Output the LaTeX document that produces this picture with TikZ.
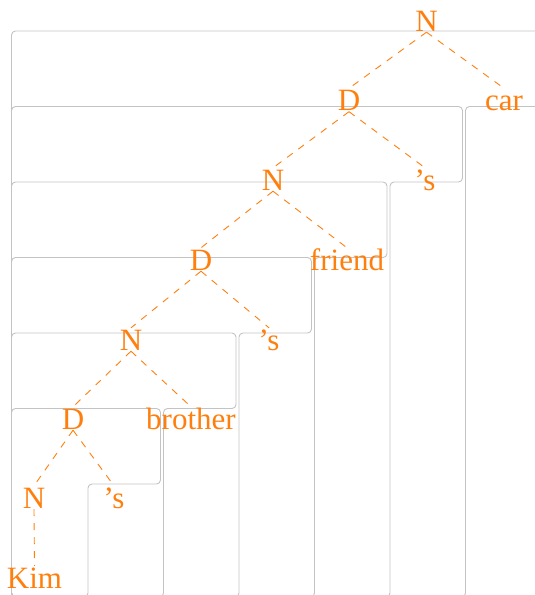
\documentclass[tikz,border=0pt]{standalone}
\usepackage{fontspec}
\setmainfont{Liberation Serif}
\definecolor{treeorange}{RGB}{255,127,14}
\definecolor{boxgrey}{RGB}{195,195,195}
\begin{document}
\begin{tikzpicture}[x=1pt,y=-1pt,
  lbl/.style={inner sep=0pt, anchor=base, text=treeorange,
    font=\fontsize{31}{31}\selectfont, text height=22pt, text depth=1pt},
  edge/.style={draw=treeorange, line width=0.9pt, dash pattern=on 7pt off 7pt},
  region/.style={draw=boxgrey, line width=0.9pt, rounded corners=4pt}]
\useasboundingbox (0,0) rectangle (535,595);
\clip (0,0) rectangle (535,595);
% nested staircase regions
\draw[region] (11.5,31) -- (541,31) -- (541,106.5) -- (465.5,106.5) -- (465.5,597) -- (11.5,597) -- cycle;
\draw[region] (11.5,106.5) -- (462.5,106.5) -- (462.5,182) -- (390,182) -- (390,597) -- (11.5,597) -- cycle;
\draw[region] (11.5,182) -- (387,182) -- (387,257.5) -- (314.5,257.5) -- (314.5,597) -- (11.5,597) -- cycle;
\draw[region] (11.5,257.5) -- (311.5,257.5) -- (311.5,333) -- (239,333) -- (239,597) -- (11.5,597) -- cycle;
\draw[region] (11.5,333) -- (236,333) -- (236,408.5) -- (163.5,408.5) -- (163.5,597) -- (11.5,597) -- cycle;
\draw[region] (11.5,408.5) -- (160.5,408.5) -- (160.5,484) -- (88,484) -- (88,597) -- (11.5,597) -- cycle;
% tree labels
\node[lbl] (n0) at (426.5,31) {N};
\node[lbl] (d1) at (349,110.5) {D};
\node[lbl] (car) at (504,110.5) {car};
\node[lbl] (n2) at (273,190) {N};
\node[lbl] (s2) at (425,190) {’s};
\node[lbl] (d3) at (201,270) {D};
\node[lbl] (friend) at (347,270) {friend};
\node[lbl] (n4) at (131,350) {N};
\node[lbl] (s4) at (269,350) {’s};
\node[lbl] (d5) at (73,429) {D};
\node[lbl] (brother) at (191,429) {brother};
\node[lbl] (n6) at (34,508) {N};
\node[lbl] (s6) at (114,508) {’s};
\node[lbl] (kim) at (34.5,588) {Kim};
% tree edges
\draw[edge] (n0.south) -- (d1.north);
\draw[edge] (n0.south) -- (car.north);
\draw[edge] (d1.south) -- (n2.north);
\draw[edge] (d1.south) -- (s2.north);
\draw[edge] (n2.south) -- (d3.north);
\draw[edge] (n2.south) -- (friend.north);
\draw[edge] (d3.south) -- (n4.north);
\draw[edge] (d3.south) -- (s4.north);
\draw[edge] (n4.south) -- (d5.north);
\draw[edge] (n4.south) -- (brother.north);
\draw[edge] (d5.south) -- (n6.north);
\draw[edge] (d5.south) -- (s6.north);
\draw[edge] (n6.south) -- (kim.north);
\end{tikzpicture}
\end{document}
